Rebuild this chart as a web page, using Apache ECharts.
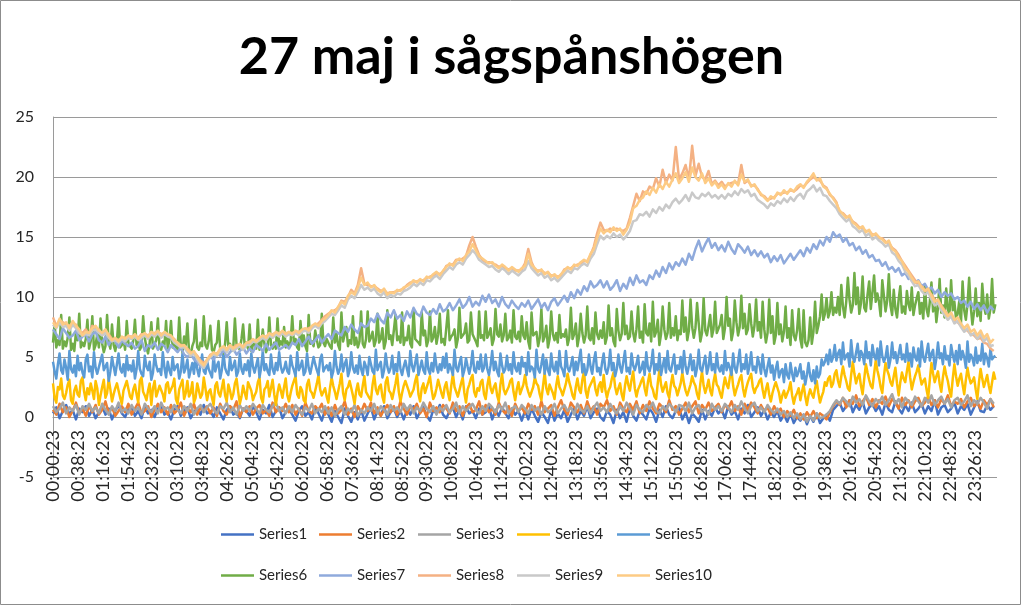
<!DOCTYPE html>
<html>
<head>
<meta charset="utf-8">
<script src="https://cdn.jsdelivr.net/npm/echarts@6/dist/echarts.min.js"></script>
<style>
html,body{margin:0;padding:0;background:#fff;}
#chart{width:1023px;height:607px;}
</style>
</head>
<body>
<div id="chart"></div>
<script>
// x value = minutes after 00:00:23. Series 4-6 are read every 2.5 minutes, the others every 5 minutes.
const stepMinutes = 5;
const fineStepMinutes = 2.5;

const tickLabels = ['00:00:23','00:38:23','01:16:23','01:54:23','02:32:23','03:10:23','03:48:23','04:26:23',
  '05:04:23','05:42:23','06:20:23','06:58:23','07:36:23','08:14:23','08:52:23','09:30:23','10:08:23',
  '10:46:23','11:24:23','12:02:23','12:40:23','13:18:23','13:56:23','14:34:23','15:12:23','15:50:23',
  '16:28:23','17:06:23','17:44:23','18:22:23','19:00:23','19:38:23','20:16:23','20:54:23','21:32:23',
  '22:10:23','22:48:23','23:26:23'];

const seriesNames = ['Series1','Series2','Series3','Series4','Series5','Series6','Series7','Series8','Series9','Series10'];

const series1 = [
0.3,0.8,-0.1,0.5,1.0,0.2,0.6,-0.2,0.7,0.4,0.9,0.1,
0.6,-0.1,0.4,0.9,0.2,0.7,-0.2,0.5,1.0,0.3,0.0,0.6,
0.8,0.1,0.5,-0.1,0.9,0.3,0.6,0.0,0.7,1.0,0.2,0.4,
-0.2,0.6,0.9,0.1,0.5,0.8,-0.1,0.4,0.7,0.2,1.0,0.3,
0.5,0.0,0.8,0.3,-0.2,0.6,0.9,0.2,0.4,-0.1,0.7,0.5,
0.1,0.9,0.4,-0.2,0.6,0.3,1.0,0.0,0.5,0.8,-0.1,0.4,
0.7,0.2,-0.3,0.5,0.9,0.1,0.4,-0.2,0.8,0.3,-0.3,0.6,
0.2,-0.4,0.5,0.0,-0.5,0.7,0.1,-0.4,0.4,-0.2,0.6,-0.3,
0.3,0.8,-0.2,0.5,0.1,0.9,-0.1,0.4,0.7,0.0,0.5,-0.2,
0.6,0.2,0.9,-0.1,0.4,0.8,0.1,-0.3,0.6,0.3,1.0,0.2,
-0.1,0.5,0.8,0.0,0.6,-0.2,0.9,0.3,0.5,-0.1,0.7,0.2,
0.4,0.9,-0.2,0.6,0.1,0.8,0.3,-0.1,0.7,0.2,0.5,-0.3,
0.5,-0.2,0.7,0.1,-0.4,0.4,0.0,-0.5,0.6,-0.3,0.3,-0.1,
0.6,-0.4,0.2,0.8,-0.2,0.5,0.1,0.9,-0.1,0.4,0.7,0.0,
-0.3,0.5,0.2,-0.5,0.6,-0.1,0.4,-0.4,0.8,0.1,-0.3,0.5,
0.2,-0.2,0.7,0.3,-0.4,0.6,0.0,0.9,0.2,-0.1,0.5,0.8,
-0.2,0.4,-0.5,0.3,0.0,-0.4,0.6,-0.2,0.5,0.1,0.8,0.3,
0.6,-0.1,0.9,0.2,0.5,-0.2,0.7,0.3,1.0,0.0,0.4,0.8,
0.1,0.6,-0.2,0.4,0.0,0.5,-0.3,0.2,-0.4,0.3,-0.5,0.0,
-0.3,0.2,-0.6,0.1,-0.4,0.3,-0.5,-0.1,0.2,-0.3,0.6,0.9,
1.2,0.5,0.9,1.4,0.4,1.0,0.6,1.3,0.3,0.8,1.1,0.5,
0.9,0.2,1.2,0.6,0.4,1.3,0.7,0.3,1.0,0.5,1.2,0.4,
0.7,1.1,0.3,0.9,0.5,1.4,0.2,0.8,1.0,0.4,0.7,1.2,
0.3,0.9,0.6,1.1,0.2,0.8,1.3,0.5,0.4,1.0,0.6,0.9];

const series2 = [
0.6,0.2,1.1,0.4,0.8,0.0,0.5,1.2,0.3,0.7,0.1,0.9,
0.4,1.0,0.2,0.6,1.3,0.3,0.8,0.1,0.5,0.9,0.4,1.1,
0.2,0.7,1.2,0.3,0.5,0.9,0.0,0.6,1.1,0.4,0.8,0.2,
1.0,0.3,0.6,1.2,0.1,0.7,0.4,1.1,0.2,0.8,0.5,0.9,
0.3,0.8,0.1,1.1,0.5,0.2,0.9,0.6,1.3,0.0,0.7,0.4,
0.9,0.2,0.7,1.0,0.3,0.6,0.1,1.2,0.4,0.8,0.5,1.1,
0.4,1.0,0.2,0.7,0.1,1.2,0.5,0.3,0.9,0.6,1.1,0.2,
0.8,0.1,1.0,0.3,0.6,1.3,0.2,0.7,0.0,0.9,0.4,1.1,
0.5,1.2,0.3,0.8,0.1,0.6,1.0,0.4,0.9,0.2,1.3,0.7,
0.2,0.9,0.6,1.1,0.3,0.7,0.0,1.2,0.5,0.8,0.4,1.0,
0.7,0.3,1.2,0.5,0.9,0.1,0.8,1.1,0.4,0.6,1.3,0.2,
1.0,0.4,0.7,0.2,1.2,0.6,0.3,0.9,0.1,1.1,0.5,0.8,
0.3,1.1,0.6,0.9,0.2,1.3,0.4,0.7,1.0,0.1,0.8,1.4,
0.6,0.2,1.2,0.8,0.4,1.0,0.3,1.3,0.5,0.9,0.2,1.1,
0.8,1.4,0.5,0.9,0.2,1.2,0.7,0.4,1.1,0.6,1.3,0.3,
1.0,0.5,1.3,0.7,0.3,1.1,0.8,0.4,1.4,0.6,0.9,0.2,
0.7,1.2,0.4,0.9,1.3,0.3,1.0,0.6,1.2,0.5,0.8,1.1,
0.4,1.0,0.7,1.3,0.5,0.9,0.2,1.1,0.6,1.2,0.8,0.3,
1.0,0.5,0.8,0.2,0.9,0.4,0.7,0.0,0.5,0.1,0.6,-0.1,
0.3,-0.2,0.4,0.0,0.5,-0.1,0.3,0.1,-0.2,0.4,0.9,1.3,
1.0,1.6,0.8,1.4,1.1,1.8,0.9,1.3,1.7,1.0,1.5,0.8,
1.4,1.1,1.7,0.9,1.5,1.2,0.7,1.6,1.0,1.4,0.8,1.3,
1.6,0.9,1.2,1.7,1.0,1.4,0.8,1.5,1.1,1.8,0.9,1.3,
1.1,1.5,0.8,1.3,1.6,0.9,1.2,0.7,1.4,1.0,1.5,0.8];

const series3 = [
0.9,0.4,0.7,1.2,0.3,0.8,0.5,1.0,0.2,0.9,0.6,1.1,
0.5,0.8,0.3,1.1,0.6,0.2,0.9,0.5,1.2,0.4,0.7,0.3,
1.0,0.5,0.8,0.2,1.1,0.7,0.4,0.9,0.3,1.2,0.6,0.8,
0.4,1.0,0.6,0.3,0.9,0.5,1.1,0.2,0.7,1.0,0.4,0.8,
1.1,0.6,0.3,0.9,0.7,1.2,0.4,0.8,0.2,1.0,0.5,0.9,
0.5,1.1,0.7,0.3,1.0,0.6,0.4,0.9,1.2,0.5,0.8,0.3,
0.9,0.4,1.0,0.6,0.2,0.8,0.5,1.1,0.3,0.7,0.4,0.9,
0.3,0.8,0.1,0.6,0.9,0.2,0.7,0.4,1.0,0.1,0.6,0.3,
0.8,0.5,1.1,0.3,0.9,0.6,0.2,1.0,0.5,0.8,0.4,1.1,
0.6,1.0,0.3,0.8,0.5,1.2,0.7,0.4,0.9,0.2,0.8,0.5,
1.0,0.4,0.7,1.2,0.3,0.9,0.5,0.8,1.1,0.6,0.3,0.9,
0.5,1.1,0.8,0.4,1.0,0.6,1.2,0.3,0.7,0.9,0.4,1.0,
0.7,0.3,1.0,0.5,0.8,0.2,0.9,0.4,0.6,1.1,0.3,0.7,
1.0,0.5,0.8,0.2,1.1,0.6,0.4,0.9,0.3,0.8,1.2,0.5,
0.8,0.4,1.1,0.6,0.3,0.9,0.5,1.2,0.7,0.2,1.0,0.6,
0.4,1.0,0.7,1.2,0.5,0.3,0.9,0.6,1.1,0.8,0.4,1.0,
0.9,0.5,1.2,0.3,0.8,1.0,0.4,0.7,0.2,1.1,0.6,0.9,
0.5,1.1,0.8,0.4,1.0,0.6,1.3,0.7,0.3,0.9,1.2,0.5,
0.8,0.4,1.0,0.6,0.3,0.7,0.2,0.5,0.0,0.4,-0.1,0.3,
-0.2,0.2,-0.4,0.1,-0.3,0.3,-0.1,0.0,0.2,0.5,1.0,1.4,
1.1,1.6,1.3,0.9,1.7,1.2,1.5,1.0,1.8,1.3,0.9,1.5,
1.2,1.7,1.0,1.4,1.9,1.1,1.5,0.8,1.6,1.3,1.0,1.7,
1.3,0.9,1.6,1.2,1.8,1.0,1.4,1.7,1.1,1.5,0.8,1.4,
1.6,1.0,1.3,1.8,0.9,1.4,1.1,1.6,1.2,0.7,1.5,1.1];

// every 2.5 minutes (24 readings per hour)
const series4 = [
2.8,1.6,1.2,2.5,2.3,3.2,1.8,1.5,2.0,2.7,3.1,1.4,1.1,2.2,2.6,1.9,1.7,3.0,3.3,2.1,1.4,2.4,1.9,2.8,
2.2,1.5,3.0,2.4,1.0,1.8,2.5,3.1,1.6,2.0,3.2,2.3,1.3,1.9,2.4,2.8,2.9,1.6,1.1,2.2,2.1,3.0,3.1,1.7,
1.5,2.3,2.7,1.9,1.2,3.0,3.3,2.1,1.8,1.4,2.2,2.8,1.0,2.4,3.0,1.7,1.6,2.6,2.5,1.9,1.3,2.7,2.9,2.0,
1.9,2.6,3.2,1.5,1.1,2.3,2.4,3.1,1.5,2.0,3.0,1.7,2.0,2.9,1.2,1.6,2.8,2.2,1.6,1.9,3.3,2.4,1.4,2.1,
2.3,1.6,1.0,2.6,2.9,2.0,1.7,2.4,3.1,1.8,1.3,2.7,2.2,1.5,1.9,2.8,3.2,2.1,1.1,1.7,2.6,2.0,1.5,2.9,
3.0,2.2,1.4,1.8,2.1,2.9,3.3,1.6,1.2,2.3,2.5,3.0,1.7,2.4,3.1,1.9,1.0,2.0,2.7,2.2,1.6,2.5,3.2,1.8,
1.3,2.0,2.6,3.0,3.4,1.9,1.6,2.5,2.2,1.4,1.2,2.7,3.1,2.2,2.0,1.6,1.5,2.8,3.5,2.3,1.8,2.1,2.4,1.7,
1.2,2.4,3.3,2.6,2.1,1.5,1.6,2.8,3.6,2.0,1.4,2.3,2.5,3.0,3.0,1.8,1.1,2.2,2.8,1.9,1.7,2.6,3.4,2.1,
2.2,1.6,1.4,2.7,3.5,2.3,1.9,2.5,2.7,1.7,1.2,2.9,3.3,2.2,2.0,1.5,1.6,2.8,3.6,2.1,1.3,2.0,2.6,3.0,
3.1,2.2,1.7,2.0,2.3,3.0,3.5,1.9,1.3,2.4,2.8,2.0,1.9,2.9,3.4,2.3,1.5,1.8,2.4,3.1,3.2,2.0,1.6,2.5,
2.9,2.0,1.4,2.6,3.6,2.5,2.1,1.7,1.8,2.8,3.3,2.0,1.2,2.3,2.7,3.2,3.5,2.1,1.7,2.4,2.2,2.9,3.1,1.9,
1.5,2.6,3.4,2.4,2.0,2.5,2.8,1.8,1.3,2.7,3.6,2.3,1.9,2.2,2.5,3.0,3.2,2.1,1.4,2.3,2.9,1.9,1.8,2.7,
3.5,2.6,2.1,1.7,1.6,2.5,3.3,2.8,2.6,1.9,1.4,2.6,3.7,2.4,1.9,2.7,2.8,2.0,1.5,2.6,3.4,2.5,2.2,1.8,
1.7,2.8,3.6,2.9,2.4,1.8,1.5,2.5,3.2,2.3,2.0,3.1,3.8,2.2,1.6,2.4,2.7,3.0,3.3,2.3,1.8,2.6,2.9,2.1,
3.5,2.3,1.6,2.2,2.5,3.2,3.7,2.5,1.9,2.4,2.8,1.9,1.4,2.6,3.4,2.7,2.2,3.1,3.8,2.4,1.7,2.3,2.6,3.0,
3.3,2.4,1.8,2.9,3.6,2.6,2.3,1.7,1.5,2.8,3.9,2.7,2.1,2.5,2.9,2.0,1.6,2.7,3.5,2.6,2.4,1.8,1.9,2.8,
3.7,2.8,2.2,1.8,1.7,2.7,3.4,2.9,2.6,1.9,1.5,2.8,3.8,2.6,2.0,2.5,3.1,2.2,1.8,2.9,3.6,2.7,2.5,2.0,
1.6,2.5,3.3,2.7,2.4,3.3,3.9,2.6,1.8,2.3,2.7,3.2,3.5,2.4,1.7,2.4,2.9,3.3,3.6,2.5,2.0,2.4,2.6,3.0,
3.2,2.3,1.6,2.3,2.8,1.9,1.3,2.0,2.5,2.9,3.0,2.0,1.2,1.8,2.2,1.6,1.5,2.3,2.9,1.8,1.1,1.7,2.0,2.4,
1.4,2.1,2.7,1.7,1.0,1.8,2.3,1.9,1.6,2.4,3.0,2.0,1.2,1.7,2.1,2.9,2.6,3.2,3.4,2.5,2.8,3.6,3.9,3.0,
2.5,3.4,4.2,3.5,3.0,2.4,2.2,3.5,4.6,3.6,2.8,3.3,3.6,2.6,1.9,3.2,4.4,3.7,3.1,2.6,2.4,3.6,4.7,3.9,
3.3,2.5,2.0,3.4,4.5,3.9,3.5,2.9,2.6,3.4,4.1,2.8,1.8,2.9,3.7,3.2,2.9,3.8,4.6,3.3,2.3,2.9,3.4,3.8,
4.3,3.4,2.7,3.0,3.2,2.3,1.6,3.1,4.5,3.6,2.9,3.4,3.8,2.8,2.1,3.3,4.2,3.5,3.0,2.2,1.7,3.2,4.4,3.4,
2.6,3.2,3.6,2.7,1.9,3.1,4.1,3.3,2.8,3.0,3.3,2.3,1.5,2.9,4.0,3.2,2.5,3.0,3.5,2.6,2.0,2.9,3.7,3.1];

// every 2.5 minutes
const series5 = [
4.6,3.8,3.2,4.4,5.3,3.9,3.6,4.8,4.1,3.1,5.5,4.0,3.7,4.3,3.4,5.1,3.9,4.5,3.7,3.3,4.8,5.2,3.8,4.2,
3.3,5.4,4.1,3.6,3.5,4.7,5.2,3.9,4.2,4.5,3.0,3.8,5.0,4.2,3.5,3.6,5.3,4.0,3.7,4.4,3.4,5.1,3.9,4.3,
3.8,4.7,3.2,4.0,5.5,4.0,3.6,3.4,5.1,4.2,3.9,4.6,3.1,3.7,5.2,4.3,3.8,4.0,3.5,5.4,4.1,3.3,4.6,3.9,
3.5,5.0,3.9,4.2,4.4,3.2,3.8,5.3,3.7,4.1,4.8,3.3,3.9,4.5,3.6,5.1,4.0,3.4,4.3,5.2,3.8,3.6,4.7,4.0,
4.0,3.3,5.2,3.8,4.3,4.6,3.2,3.9,5.4,4.1,3.7,3.5,5.0,3.9,4.2,4.7,3.4,3.8,5.3,4.0,3.6,4.4,3.9,4.7,
3.4,5.3,4.2,3.7,3.6,4.9,3.3,4.1,5.5,3.9,4.4,3.8,3.5,5.2,4.0,3.6,4.5,3.9,5.4,4.2,3.7,4.0,4.6,3.8,
3.6,5.1,4.3,3.9,3.4,5.4,3.9,4.2,4.7,3.5,3.8,5.3,4.1,3.6,3.7,5.0,4.4,3.9,3.5,4.8,5.2,3.8,4.1,4.3,
3.9,4.5,3.3,3.8,5.5,4.2,3.6,4.0,5.2,3.8,4.4,4.8,3.4,3.9,5.4,4.1,3.7,4.3,3.6,5.1,4.0,3.5,4.6,4.2,
3.5,5.0,4.4,3.8,3.6,5.6,3.9,4.3,4.6,3.3,3.9,5.3,4.2,3.7,4.1,5.1,3.6,4.4,3.8,5.4,4.0,3.5,4.2,4.7,
4.0,3.4,5.5,4.3,3.8,3.9,5.2,3.5,4.1,4.7,3.9,3.6,5.4,4.0,3.6,4.5,3.8,5.3,4.2,3.7,4.4,3.9,5.0,4.1,
5.3,3.7,4.4,4.0,3.5,5.6,4.1,3.8,4.5,5.0,3.4,3.9,4.9,4.2,3.6,4.3,5.5,3.9,3.7,4.6,4.0,5.2,3.8,4.1,
5.2,4.0,3.5,4.3,5.5,3.9,4.6,3.8,3.4,5.3,4.3,3.7,4.0,5.1,3.9,4.4,3.6,5.4,4.1,3.8,4.5,3.6,5.0,4.2,
4.5,3.5,5.4,3.8,4.2,4.0,3.3,5.6,4.0,3.7,4.4,5.2,3.6,4.8,3.9,3.5,5.3,4.1,3.8,4.6,3.6,5.5,4.2,3.9,
3.4,5.5,4.1,3.8,4.3,5.0,3.5,4.6,3.9,4.0,5.6,3.7,4.4,3.5,3.9,5.2,4.2,3.6,4.7,5.4,3.8,4.1,3.5,4.5,
5.3,4.0,3.6,4.2,5.6,3.9,4.5,3.4,4.0,5.2,4.2,3.7,4.6,5.5,3.8,4.1,3.6,5.3,4.3,3.9,4.4,5.1,3.7,4.0,
4.6,3.5,5.4,4.1,3.8,4.4,5.6,3.6,4.4,3.9,5.3,3.5,4.2,4.9,3.7,5.5,4.0,3.8,4.5,5.2,3.6,4.3,4.0,5.0,
3.7,5.5,4.2,3.6,4.3,5.2,3.9,4.7,3.4,4.1,5.6,4.0,3.8,4.5,5.1,3.6,4.2,5.4,3.9,4.4,3.7,5.3,4.1,3.8,
4.3,3.6,5.5,3.9,4.5,4.1,3.5,5.3,4.1,3.7,4.6,5.6,3.8,4.4,4.0,5.2,3.6,4.3,5.4,3.9,4.2,3.7,5.0,4.4,
3.6,5.2,4.0,3.4,4.2,4.9,3.7,4.3,3.1,4.0,4.6,3.3,3.8,4.0,2.9,4.4,3.5,3.2,4.5,3.6,3.0,4.1,3.4,3.8,
4.4,3.2,3.8,2.7,3.5,4.5,3.4,3.0,3.9,2.8,4.2,3.3,3.6,4.8,4.3,4.6,5.2,4.4,5.6,4.6,5.0,6.0,4.7,5.3,
5.6,4.4,6.2,4.8,5.1,5.3,4.2,6.4,5.0,4.6,4.5,6.1,4.7,5.5,5.2,4.4,6.3,4.9,5.4,4.3,6.0,5.1,4.8,5.7,
4.3,6.3,5.1,4.6,5.0,5.9,4.1,4.8,6.2,4.9,5.4,4.5,4.4,6.0,4.8,5.2,4.6,6.1,4.7,5.3,4.2,5.8,5.0,4.7,
5.7,4.2,6.3,5.0,4.6,4.5,6.1,4.7,5.3,5.6,4.0,4.9,6.2,4.9,5.3,4.4,5.9,4.8,5.1,4.3,6.0,5.2,4.6,5.5,
4.4,6.0,4.8,5.5,5.0,4.1,6.3,4.6,5.2,4.9,4.3,5.8,4.5,5.1,4.7,6.1,4.4,5.3,4.9,4.2,5.7,4.8,5.0,5.1];

// every 2.5 minutes
const series6 = [
6.2,7.8,5.8,6.4,6.0,8.5,5.7,6.3,5.9,6.6,8.3,5.6,6.1,5.5,7.1,6.4,8.6,5.8,6.2,5.9,6.5,8.1,5.7,6.3,
8.4,5.6,6.0,6.9,5.8,8.2,6.1,5.4,5.9,8.5,6.2,5.7,7.7,6.0,5.5,6.3,8.3,5.8,6.0,6.5,5.6,8.0,6.2,5.9,
5.7,6.4,8.1,6.0,6.3,5.6,5.9,8.4,6.6,5.8,5.3,6.2,7.9,5.7,6.1,6.4,8.2,5.8,5.6,6.3,6.0,8.0,5.7,6.4,
8.0,5.8,6.1,6.2,5.6,8.3,5.9,5.4,6.7,6.0,7.8,5.5,5.1,5.9,6.3,8.1,5.8,5.6,6.2,5.9,8.4,6.0,5.7,6.3,
7.6,5.6,5.4,6.0,6.2,8.0,5.7,5.5,5.3,6.1,7.9,5.9,6.1,5.5,5.8,8.2,6.0,5.8,5.6,6.5,7.7,5.9,6.2,5.7,
7.7,5.5,6.0,6.2,5.7,8.1,5.6,5.9,7.3,6.1,5.4,5.8,8.3,6.0,5.7,6.2,5.7,8.2,5.9,6.3,6.0,7.5,5.8,6.3,
5.9,6.3,8.4,6.1,6.5,5.8,5.6,8.0,6.2,6.8,5.9,5.5,8.5,6.1,6.3,5.9,7.2,6.4,5.8,6.0,8.6,6.2,5.9,6.5,
6.4,5.9,5.7,8.3,6.2,6.9,6.0,5.6,8.7,6.3,6.2,7.5,5.9,6.4,6.1,8.4,6.0,6.6,5.8,6.3,8.8,6.1,5.8,6.5,
8.8,6.3,6.6,7.1,5.9,6.4,8.6,6.2,6.5,7.4,5.7,6.3,8.9,6.5,6.8,6.0,6.1,8.5,6.4,6.7,6.2,8.7,6.0,6.6,
6.4,7.6,6.1,5.8,9.0,6.5,6.6,6.2,6.0,8.7,6.8,7.2,5.9,6.4,8.8,6.3,6.6,7.5,6.1,6.9,8.6,6.2,6.5,6.0,
6.1,8.9,6.4,6.7,6.9,7.3,5.8,6.5,9.1,6.6,6.5,7.0,7.8,6.2,6.4,8.7,6.9,7.0,6.3,5.9,8.8,6.6,6.8,6.4,
8.8,6.6,6.9,7.4,6.0,6.5,9.0,6.9,6.7,7.7,6.3,6.8,8.6,6.4,6.6,7.2,6.2,8.9,6.7,6.5,7.1,6.3,8.4,6.8,
6.5,7.9,6.3,5.7,8.7,6.8,6.9,7.1,5.9,6.6,9.0,6.3,6.7,7.6,5.8,6.5,8.8,6.9,6.4,7.0,6.2,8.5,6.6,6.9,
6.7,7.3,6.0,6.6,9.1,6.5,6.9,7.8,5.9,6.7,8.6,7.0,6.2,6.8,9.2,6.6,6.4,7.4,6.1,8.7,6.9,6.5,7.2,6.6,
7.9,6.1,6.7,9.3,6.8,7.4,6.3,5.9,9.0,7.2,6.4,6.9,9.5,6.9,7.6,6.5,6.7,8.8,7.0,6.3,7.3,9.2,6.6,7.1,
6.2,9.4,7.0,6.8,7.8,6.3,9.6,6.7,7.1,8.1,6.0,6.9,9.2,7.3,6.5,7.0,9.5,6.6,7.4,6.8,8.4,6.4,7.2,6.9,
9.7,7.1,8.3,6.4,7.2,9.8,7.5,6.6,7.4,9.5,7.8,6.3,7.0,9.9,7.2,6.8,7.6,8.5,6.7,7.3,9.6,7.0,6.9,7.7,
8.5,6.5,7.4,10.0,7.6,8.2,6.4,7.1,9.7,7.9,6.8,7.5,10.1,7.4,8.6,6.9,7.3,9.4,7.8,6.7,7.6,9.8,7.2,7.9,
6.6,9.6,7.3,6.2,7.0,9.8,7.0,8.4,6.1,6.8,9.5,6.9,7.7,6.3,7.1,9.2,6.6,7.4,6.0,8.9,6.8,6.4,7.2,9.0,
6.5,5.8,8.9,6.2,5.9,6.4,8.3,6.1,7.1,9.6,7.0,7.6,8.4,10.2,8.1,8.6,9.9,8.3,8.8,10.4,8.5,9.1,8.7,10.0,
8.5,11.0,9.2,8.3,9.6,11.6,9.8,8.7,9.3,12.0,9.4,10.8,8.6,9.5,11.7,9.1,8.8,10.2,11.3,9.0,8.9,11.8,9.6,10.3,
9.6,8.4,11.4,10.1,8.8,9.7,11.9,9.3,8.5,10.6,9.0,8.3,9.8,10.9,8.7,9.2,8.6,10.5,9.4,8.9,10.8,8.5,9.3,9.9,
10.4,8.6,9.5,8.2,10.9,9.0,8.4,9.6,11.2,8.8,9.9,7.9,9.1,11.5,8.7,9.3,8.3,10.7,9.0,8.5,11.4,8.9,9.6,8.2,
8.6,9.7,7.8,11.3,8.9,8.1,9.4,11.6,9.2,7.7,8.8,10.7,8.4,9.5,8.0,11.1,9.3,8.6,10.2,8.2,9.0,11.5,8.7,9.4];

const series7 = [
7.3,6.9,6.5,7.4,7.0,6.6,6.8,7.2,6.4,6.7,6.9,6.3,
6.9,7.1,6.4,6.2,6.7,6.0,6.5,6.3,5.8,6.4,6.1,5.9,
6.2,5.7,5.9,6.4,5.5,6.0,5.8,6.2,5.6,6.1,5.9,5.4,
6.0,5.7,5.4,5.8,5.2,5.0,5.3,4.8,4.6,4.2,4.5,4.7,
5.0,4.8,5.3,5.1,5.6,5.0,5.4,5.7,5.2,5.5,5.8,5.3,
5.7,5.4,6.0,5.8,5.5,6.1,5.6,5.9,6.2,5.6,5.8,6.0,
5.7,6.2,6.0,6.5,5.9,6.3,6.7,6.1,6.4,6.8,6.2,6.6,
6.9,6.5,7.2,7.0,6.8,7.5,7.1,7.7,7.3,7.0,7.8,7.5,
7.6,8.2,7.9,8.6,8.1,7.8,8.7,8.3,8.9,8.2,8.5,8.0,
8.8,8.3,9.1,8.6,8.4,9.2,8.7,8.5,9.0,8.6,9.4,8.8,
9.0,9.5,8.9,9.3,9.8,9.1,9.4,10.0,9.2,9.6,9.3,10.1,
9.6,10.2,9.5,9.8,9.2,10.0,9.4,9.1,9.7,9.3,9.0,9.5,
9.2,9.7,9.0,9.4,9.8,9.1,9.5,8.9,9.6,9.9,9.3,9.7,
10.1,9.6,10.4,9.9,10.6,10.2,10.9,10.5,11.3,10.8,11.0,11.4,
10.8,11.3,10.6,10.9,11.4,10.5,11.1,10.7,11.6,11.0,11.8,11.2,
11.4,11.0,11.8,11.5,12.2,11.7,12.5,12.0,12.8,12.3,12.9,12.6,
13.2,12.7,13.6,13.1,14.0,14.7,13.8,14.4,14.9,14.1,14.5,13.9,
14.3,13.8,14.6,14.0,13.6,14.4,14.1,13.7,14.2,13.5,13.9,13.4,
13.8,13.3,13.6,12.9,13.4,13.0,13.5,12.8,13.2,13.6,13.1,13.5,
13.9,13.4,14.1,13.7,14.4,14.0,14.7,14.3,15.0,14.6,15.4,15.0,
15.2,14.6,14.9,14.3,14.5,13.9,14.2,13.6,13.9,13.3,13.5,13.0,
13.1,12.6,12.9,12.3,12.5,12.1,12.4,11.8,12.0,11.5,11.7,11.2,
11.4,10.9,11.1,10.6,10.8,10.3,10.6,10.0,10.4,10.1,10.3,9.8,
10.0,9.5,9.7,9.2,9.6,9.0,9.4,8.9,9.3,8.7,9.2,8.9];

const series8 = [
8.3,7.6,8.0,7.9,7.7,7.6,7.8,7.7,7.1,7.0,7.3,6.9,
7.6,7.4,7.3,6.9,7.1,6.9,6.5,6.5,6.4,6.6,6.6,6.7,
6.7,6.8,6.6,6.9,6.9,6.8,7.0,7.0,7.1,6.9,7.0,6.8,
6.7,6.5,6.1,6.0,5.9,5.7,5.4,5.4,5.1,4.7,4.5,4.7,
5.2,5.3,5.3,5.6,5.8,5.7,5.9,5.8,6.0,6.0,5.9,6.1,
6.3,6.4,6.4,6.5,6.7,6.7,6.9,6.9,7.0,7.0,7.1,7.0,
7.0,7.0,7.1,7.1,7.2,7.3,7.4,7.5,7.7,7.8,8.1,8.4,
8.6,8.8,8.9,9.1,9.7,9.6,10.0,10.6,10.3,11.0,12.4,11.1,
11.0,10.9,10.9,10.7,10.5,10.6,10.3,10.4,10.4,10.5,10.6,10.7,
11.0,11.2,11.3,11.3,11.4,11.4,11.6,11.7,11.8,12.0,11.9,12.1,
12.6,12.7,12.7,13.1,13.1,13.2,13.4,14.3,15.0,14.2,13.5,13.1,
12.9,12.9,12.8,12.7,12.5,12.6,12.4,12.3,12.4,12.2,12.2,12.3,
12.8,14.0,12.9,12.3,12.2,12.2,12.0,12.0,11.8,11.8,11.7,11.8,
12.3,12.4,12.4,12.6,12.7,12.8,13.0,13.0,13.5,14.2,15.3,16.2,
15.6,15.5,15.7,15.6,15.7,15.6,15.5,15.7,16.6,17.6,18.6,18.0,
18.8,18.6,19.2,19.0,19.9,19.2,20.6,19.5,20.2,19.7,22.5,19.8,
20.3,21.0,19.8,22.6,20.1,21.1,20.0,19.8,20.5,19.4,19.7,19.3,
19.6,19.2,19.4,19.5,19.6,19.4,21.0,19.5,19.7,19.3,19.3,19.0,
18.5,18.4,18.1,18.2,18.3,18.6,18.6,18.7,18.7,18.9,18.8,19.0,
19.3,19.2,19.5,19.8,20.0,19.8,19.7,19.3,19.1,18.5,18.3,17.9,
17.0,17.0,16.7,16.6,16.3,16.1,15.8,15.7,15.5,15.5,15.2,15.2,
14.9,14.9,14.6,14.5,14.1,13.9,13.5,13.0,12.6,12.2,11.8,11.4,
11.0,10.9,10.6,10.4,10.2,9.8,9.6,9.3,8.9,8.5,8.4,8.0,
7.9,7.6,7.3,7.2,6.9,6.8,6.5,6.6,6.2,6.1,5.7,5.5];

const series9 = [
7.7,7.4,7.9,7.5,7.6,7.2,7.7,7.4,7.0,6.8,6.9,6.8,
7.2,7.3,7.0,6.8,7.0,6.6,6.3,6.4,6.2,6.5,6.3,6.6,
6.5,6.7,6.4,6.6,6.8,6.5,6.9,6.7,7.0,6.6,6.9,6.7,
6.6,6.2,6.0,5.8,5.8,5.4,5.1,5.3,4.8,4.4,4.1,4.6,
5.0,5.2,5.1,5.5,5.7,5.4,5.8,5.5,5.7,5.9,5.6,6.0,
6.0,6.3,6.2,6.4,6.6,6.4,6.8,6.6,6.9,6.7,7.0,6.7,
6.9,6.8,7.0,6.8,7.1,7.2,7.0,7.4,7.6,7.4,7.8,8.0,
8.3,8.6,8.5,8.9,9.3,9.1,9.8,10.1,9.9,10.4,11.0,10.6,
10.8,10.5,10.7,10.3,10.1,10.4,9.9,10.2,10.0,10.3,10.2,10.5,
10.6,10.8,11.1,10.9,11.2,11.0,11.4,11.3,11.6,11.8,11.5,11.9,
12.2,12.5,12.3,12.7,12.9,12.7,13.2,13.5,13.9,13.6,13.1,12.9,
12.7,12.5,12.6,12.3,12.1,12.4,12.2,11.9,12.2,12.0,11.8,12.1,
12.3,13.0,12.4,12.1,11.8,12.0,11.6,11.8,11.4,11.6,11.3,11.6,
11.9,12.2,12.0,12.4,12.3,12.6,12.8,12.6,13.2,13.6,14.4,15.1,
14.8,15.1,14.9,15.3,15.0,15.2,14.8,15.1,15.5,16.3,16.4,16.9,
16.8,17.1,16.7,17.3,17.0,17.5,17.2,17.7,17.4,17.9,18.2,17.8,
18.1,18.5,18.0,18.7,18.3,18.2,18.6,18.4,18.7,18.3,18.5,18.2,
18.5,18.2,18.6,18.4,18.8,18.5,19.0,18.7,18.9,18.4,18.6,18.1,
17.9,17.7,17.4,17.8,17.6,18.0,17.8,18.2,17.9,18.3,18.0,18.4,
18.6,18.2,18.8,19.0,19.3,18.8,19.1,18.5,18.4,18.0,17.7,17.4,
16.9,16.6,16.3,16.5,15.9,15.7,15.4,15.6,15.1,15.3,14.8,15.0,
14.7,14.5,14.2,14.4,13.7,13.5,13.0,12.7,12.1,11.8,11.3,10.9,
11.0,10.5,10.2,10.4,9.8,9.3,9.5,8.9,8.5,8.1,8.4,7.8,
8.0,7.5,7.1,7.4,6.8,7.0,6.5,6.9,6.3,6.6,5.9,6.0];

const series10 = [
7.9,7.5,8.2,7.7,7.9,7.4,8.0,7.6,7.3,6.8,7.1,7.0,
7.4,7.6,7.2,7.0,7.3,6.8,6.4,6.6,6.3,6.7,6.5,6.8,
6.6,6.9,6.5,6.8,7.0,6.7,7.1,6.9,7.2,6.8,7.1,6.9,
6.8,6.4,6.2,5.9,6.0,5.6,5.3,5.5,5.0,4.6,4.3,4.8,
5.1,5.4,5.2,5.7,5.9,5.6,6.0,5.7,5.9,6.1,5.8,6.2,
6.2,6.5,6.3,6.6,6.8,6.6,7.0,6.8,7.1,6.9,7.2,6.9,
7.1,6.9,7.2,7.0,7.3,7.4,7.2,7.6,7.8,7.6,8.0,8.2,
8.5,8.9,8.7,9.2,9.6,9.4,10.1,10.4,10.2,10.8,11.6,11.0,
11.2,10.8,11.0,10.6,10.4,10.7,10.2,10.4,10.3,10.6,10.5,10.8,
10.9,11.1,11.4,11.2,11.5,11.3,11.7,11.6,11.9,12.1,11.8,12.2,
12.5,12.8,12.6,13.0,13.2,13.0,13.5,13.8,14.4,13.9,13.4,13.2,
13.0,12.8,12.9,12.6,12.4,12.7,12.5,12.2,12.5,12.3,12.1,12.4,
12.6,13.6,12.7,12.4,12.1,12.3,11.9,12.1,11.7,11.9,11.6,11.9,
12.2,12.5,12.3,12.7,12.6,12.9,13.1,12.9,13.6,14.0,14.9,15.7,
15.3,15.6,15.4,15.8,15.5,15.7,15.2,15.6,16.2,17.4,17.6,18.1,
18.3,18.8,18.5,19.1,18.7,19.4,19.0,19.6,19.2,19.8,20.3,19.5,
19.9,20.4,19.6,20.8,20.0,19.7,20.3,19.5,19.9,19.3,19.6,19.1,
19.4,19.0,19.5,19.2,19.7,19.3,20.2,19.6,19.8,19.2,19.4,18.9,
18.6,18.3,18.0,18.4,18.2,18.7,18.5,18.9,18.6,19.0,18.8,19.2,
19.4,19.1,19.6,19.9,20.3,19.7,19.9,19.2,19.0,18.6,18.2,17.8,
17.2,16.9,16.6,16.8,16.2,16.0,15.7,15.9,15.4,15.6,15.1,15.3,
15.0,14.8,14.5,14.7,14.0,13.8,13.3,13.0,12.4,12.1,11.6,11.2,
11.3,10.8,10.5,10.7,10.1,9.6,9.8,9.2,8.8,8.4,8.7,8.1,
8.3,7.8,7.4,7.7,7.1,7.3,6.8,7.2,6.6,6.9,6.2,6.5];

const seriesValues = [series1, series2, series3, series4, series5, series6, series7, series8, series9, series10];
const seriesSteps = [stepMinutes, stepMinutes, stepMinutes, fineStepMinutes, fineStepMinutes, fineStepMinutes,
  stepMinutes, stepMinutes, stepMinutes, stepMinutes];
const seriesColors = ['#4472C4','#ED7D31','#A5A5A5','#FFC000','#5B9BD5','#70AD47','#8FAADC','#F4B183','#C9C9C9','#FDCB84'];

const chart = echarts.init(document.getElementById('chart'), null, {renderer: 'canvas'});

const font = 'Lato, "Open Sans", sans-serif';
const legendLeft = [221, 319, 418, 517, 617];
const legendTop = [527, 568];

const legends = seriesNames.map((name, i) => ({
  data: [name],
  left: legendLeft[i % 5],
  top: legendTop[Math.floor(i / 5)],
  padding: 0,
  itemGap: 0,
  itemWidth: 33,
  itemHeight: 2.5,
  icon: 'rect',
  selectedMode: false,
  textStyle: { fontFamily: font, fontSize: 15, color: '#262626' }
}));

const option = {
  animation: false,
  backgroundColor: '#ffffff',
  title: {
    text: '27 maj i sågspånshögen',
    left: 'center',
    top: 26,
    textStyle: { fontFamily: font, fontWeight: 'bold', fontSize: 52, color: '#000000' }
  },
  graphic: [{
    type: 'rect',
    shape: { x: 0.5, y: 0.5, width: 1020, height: 604 },
    style: { fill: 'none', stroke: '#8c8c8c', lineWidth: 1 },
    silent: true,
    z: 100
  }],
  legend: legends,
  grid: { left: 53, right: 26, top: 117, bottom: 130, containLabel: false },
  xAxis: {
    type: 'value',
    min: 0,
    max: 1440,
    interval: 38,
    position: 'bottom',
    offset: -60,
    axisLine: { show: true, onZero: false, lineStyle: { color: '#9a9a9a', width: 1 } },
    axisTick: { show: false },
    splitLine: { show: false },
    axisLabel: {
      rotate: 90,
      margin: 13,
      fontFamily: font,
      fontSize: 18,
      color: '#262626',
      showMaxLabel: false,
      formatter: function (v) {
        const k = Math.round(v / 38);
        return (Math.abs(v - k * 38) < 1e-6 && k < tickLabels.length) ? tickLabels[k] : '';
      }
    }
  },
  yAxis: {
    type: 'value',
    min: -5,
    max: 25,
    interval: 5,
    axisLine: { show: true, lineStyle: { color: '#9a9a9a', width: 1 } },
    axisTick: { show: false },
    splitLine: { show: true, lineStyle: { color: '#9a9a9a', width: 1 } },
    axisLabel: { fontFamily: font, fontSize: 16, color: '#262626', margin: 19 }
  },
  series: seriesValues.map((vals, si) => ({
    name: seriesNames[si],
    type: 'line',
    data: vals.map((v, i) => [i * seriesSteps[si], v]),
    symbol: 'none',
    showSymbol: false,
    silent: true,
    color: seriesColors[si],
    lineStyle: { width: 2.5, color: seriesColors[si], join: 'round' },
    z: 2
  }))
};

chart.setOption(option);
</script>
</body>
</html>
